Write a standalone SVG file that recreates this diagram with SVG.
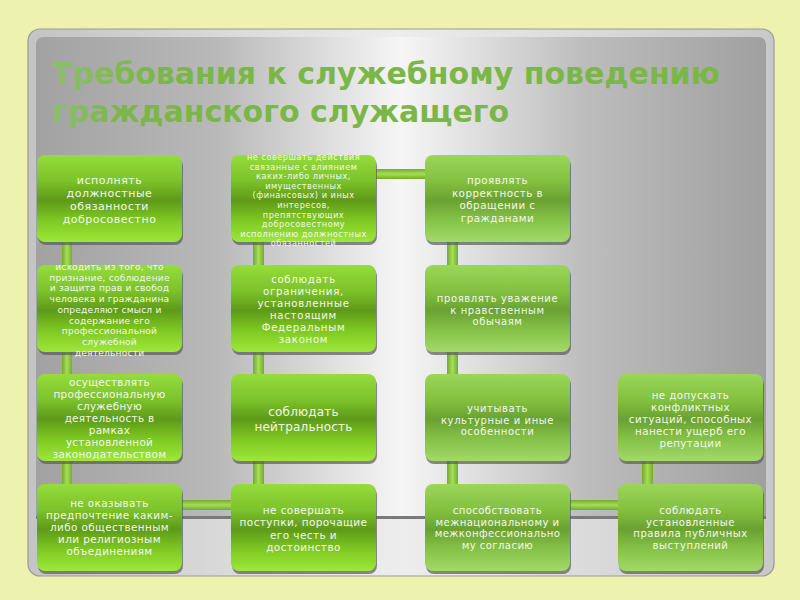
<svg xmlns="http://www.w3.org/2000/svg" width="800" height="600" viewBox="0 0 800 600">
<defs>
<linearGradient id="panel" x1="0" y1="0" x2="1" y2="0">
<stop offset="0" stop-color="#a2a2a2"/>
<stop offset="0.25" stop-color="#b9b9b9"/>
<stop offset="0.5" stop-color="#f6f6f6"/>
<stop offset="0.75" stop-color="#bdbdbd"/>
<stop offset="1" stop-color="#a0a0a0"/>
</linearGradient>
<linearGradient id="lower" x1="0" y1="0" x2="1" y2="0">
<stop offset="0" stop-color="#c4c4c4"/>
<stop offset="0.5" stop-color="#ededed"/>
<stop offset="1" stop-color="#c8c8c8"/>
</linearGradient>
<linearGradient id="g1" x1="0" y1="0" x2="0" y2="1">
<stop offset="0" stop-color="#95dc3c"/>
<stop offset="0.3" stop-color="#7cc22a"/>
<stop offset="0.52" stop-color="#5e9a18"/>
<stop offset="0.75" stop-color="#7ec822"/>
<stop offset="1" stop-color="#9ee83a"/>
</linearGradient>
<linearGradient id="g2" x1="0" y1="0" x2="0" y2="1">
<stop offset="0" stop-color="#9ad658"/>
<stop offset="0.3" stop-color="#84c040"/>
<stop offset="0.52" stop-color="#6aa132"/>
<stop offset="0.75" stop-color="#86c248"/>
<stop offset="1" stop-color="#a2da6a"/>
</linearGradient>
<linearGradient id="vbar" x1="0" y1="0" x2="1" y2="0">
<stop offset="0" stop-color="#6fae2a"/>
<stop offset="0.5" stop-color="#a8dc5a"/>
<stop offset="1" stop-color="#6fae2a"/>
</linearGradient>
<linearGradient id="hbar" x1="0" y1="0" x2="0" y2="1">
<stop offset="0" stop-color="#6fae2a"/>
<stop offset="0.5" stop-color="#a8dc5a"/>
<stop offset="1" stop-color="#6fae2a"/>
</linearGradient>
<linearGradient id="title" x1="0" y1="0" x2="1" y2="0">
<stop offset="0" stop-color="#8cc06a"/>
<stop offset="0.15" stop-color="#7ab648"/>
<stop offset="1" stop-color="#7ab648"/>
</linearGradient>
</defs>
<style>
.box1 { fill: url(#g1); }
.box2 { fill: url(#g2); }
.shadow { fill: #5a5a5a; opacity: 0.7; }
.t { font-family: "DejaVu Sans", "Liberation Sans", sans-serif; fill: #f3f8ea; text-anchor: middle; }
.ttl { font-family: "DejaVu Sans", "Liberation Sans", sans-serif; font-weight: bold; font-size: 30px; fill: url(#title); }
</style>
<rect x="0" y="0" width="800" height="600" fill="#edf2ae"/>
<rect x="28" y="29" width="746" height="547" rx="12" fill="url(#lower)" stroke="#9a9a9a" stroke-width="1.2"/>
<path d="M44 37 H758 Q766 37 766 45 V518 H36 V45 Q36 37 44 37 Z" fill="url(#panel)"/>
<rect x="36" y="516" width="730" height="3" fill="#7a7a7a"/>
<g id="title-text">
<text class="ttl" x="52" y="84">Требования к служебному поведению</text>
<text class="ttl" x="52" y="122">гражданского служащего</text>
</g>
<g id="connectors">
<rect x="62" y="200" width="10" height="320" fill="url(#vbar)"/>
<rect x="253" y="200" width="11" height="320" fill="url(#vbar)"/>
<rect x="447" y="200" width="11" height="320" fill="url(#vbar)"/>
<rect x="642" y="420" width="11" height="100" fill="url(#vbar)"/>
<rect x="370" y="169" width="60" height="10" fill="url(#hbar)"/>
<rect x="178" y="500" width="58" height="10" fill="url(#hbar)"/>
<rect x="566" y="500" width="56" height="10" fill="url(#hbar)"/>
</g>
<g id="n1">
<rect class="shadow" x="38" y="158" width="145" height="87" rx="8"/>
<rect class="box1" x="37" y="155" width="145" height="87" rx="8"/>
<g class="t" font-size="11" letter-spacing="0.5">
<text x="109.5" y="184">исполнять</text>
<text x="109.5" y="197">должностные</text>
<text x="109.5" y="210">обязанности</text>
<text x="109.5" y="223">добросовестно</text>
</g>
</g>
<g id="n2">
<rect class="shadow" x="38" y="268" width="145" height="87" rx="8"/>
<rect class="box1" x="37" y="265" width="145" height="87" rx="8"/>
<g class="t" font-size="9.1" letter-spacing="0.2">
<text x="109.5" y="270">исходить из того, что</text>
<text x="109.5" y="280.7">признание, соблюдение</text>
<text x="109.5" y="291.4">и защита прав и свобод</text>
<text x="109.5" y="302.1">человека и гражданина</text>
<text x="109.5" y="312.8">определяют смысл и</text>
<text x="109.5" y="323.5">содержание его</text>
<text x="109.5" y="334.2">профессиональной</text>
<text x="109.5" y="344.9">служебной</text>
<text x="109.5" y="355.6">деятельности</text>
</g>
</g>
<g id="n3">
<rect class="shadow" x="38" y="377" width="145" height="87" rx="8"/>
<rect class="box1" x="37" y="374" width="145" height="87" rx="8"/>
<g class="t" font-size="10.4" letter-spacing="0.3">
<text x="109.5" y="386">осуществлять</text>
<text x="109.5" y="398">профессиональную</text>
<text x="109.5" y="410">служебную</text>
<text x="109.5" y="422">деятельность в</text>
<text x="109.5" y="434">рамках</text>
<text x="109.5" y="446">установленной</text>
<text x="109.5" y="458">законодательством</text>
</g>
</g>
<g id="n4">
<rect class="shadow" x="38" y="487" width="145" height="87" rx="8"/>
<rect class="box1" x="37" y="484" width="145" height="87" rx="8"/>
<g class="t" font-size="10.4" letter-spacing="0.4">
<text x="109.5" y="507">не оказывать</text>
<text x="109.5" y="519">предпочтение каким-</text>
<text x="109.5" y="531">либо общественным</text>
<text x="109.5" y="543">или религиозным</text>
<text x="109.5" y="555">объединениям</text>
</g>
</g>
<g id="n5">
<rect class="shadow" x="232" y="487" width="145" height="87" rx="8"/>
<rect class="box1" x="231" y="484" width="145" height="87" rx="8"/>
<g class="t" font-size="10.5" letter-spacing="0.4">
<text x="303.5" y="514">не совершать</text>
<text x="303.5" y="526.3">поступки, порочащие</text>
<text x="303.5" y="538.6">его честь и</text>
<text x="303.5" y="551">достоинство</text>
</g>
</g>
<g id="n6">
<rect class="shadow" x="232" y="377" width="145" height="87" rx="8"/>
<rect class="box1" x="231" y="374" width="145" height="87" rx="8"/>
<g class="t" font-size="12" letter-spacing="0.2">
<text x="303.5" y="416">соблюдать</text>
<text x="303.5" y="431">нейтральность</text>
</g>
</g>
<g id="n7">
<rect class="shadow" x="232" y="268" width="145" height="87" rx="8"/>
<rect class="box1" x="231" y="265" width="145" height="87" rx="8"/>
<g class="t" font-size="10.2" letter-spacing="0.7">
<text x="303.5" y="283">соблюдать</text>
<text x="303.5" y="295">ограничения,</text>
<text x="303.5" y="307">установленные</text>
<text x="303.5" y="319">настоящим</text>
<text x="303.5" y="331">Федеральным</text>
<text x="303.5" y="343">законом</text>
</g>
</g>
<g id="n8">
<rect class="shadow" x="232" y="158" width="145" height="87" rx="8"/>
<rect class="box1" x="231" y="155" width="145" height="87" rx="8"/>
<g class="t" font-size="8.2" letter-spacing="0.5">
<text x="303.5" y="160">не совершать действия</text>
<text x="303.5" y="169.6">связанные с влиянием</text>
<text x="303.5" y="179.2">каких-либо личных,</text>
<text x="303.5" y="188.8">имущественных</text>
<text x="303.5" y="198.4">(финансовых) и иных</text>
<text x="303.5" y="208">интересов,</text>
<text x="303.5" y="217.6">препятствующих</text>
<text x="303.5" y="227.2">добросовестному</text>
<text x="303.5" y="236.8">исполнению должностных</text>
<text x="303.5" y="246.4">обязанностей</text>
</g>
</g>
<g id="n9">
<rect class="shadow" x="426" y="158" width="145" height="87" rx="8"/>
<rect class="box2" x="425" y="155" width="145" height="87" rx="8"/>
<g class="t" font-size="10.3" letter-spacing="0.5">
<text x="497.5" y="184">проявлять</text>
<text x="497.5" y="196.5">корректность в</text>
<text x="497.5" y="209">обращении с</text>
<text x="497.5" y="221.5">гражданами</text>
</g>
</g>
<g id="n10">
<rect class="shadow" x="426" y="268" width="145" height="87" rx="8"/>
<rect class="box2" x="425" y="265" width="145" height="87" rx="8"/>
<g class="t" font-size="10" letter-spacing="0.6">
<text x="497.5" y="302">проявлять уважение</text>
<text x="497.5" y="313.5">к нравственным</text>
<text x="497.5" y="325">обычаям</text>
</g>
</g>
<g id="n11">
<rect class="shadow" x="426" y="377" width="145" height="87" rx="8"/>
<rect class="box2" x="425" y="374" width="145" height="87" rx="8"/>
<g class="t" font-size="10" letter-spacing="0.6">
<text x="497.5" y="412">учитывать</text>
<text x="497.5" y="423.5">культурные и иные</text>
<text x="497.5" y="435">особенности</text>
</g>
</g>
<g id="n12">
<rect class="shadow" x="426" y="487" width="145" height="87" rx="8"/>
<rect class="box2" x="425" y="484" width="145" height="87" rx="8"/>
<g class="t" font-size="10.1" letter-spacing="0.4">
<text x="497.5" y="514">способствовать</text>
<text x="497.5" y="525.7">межнациональному и</text>
<text x="497.5" y="537.4">межконфессионально</text>
<text x="497.5" y="549">му согласию</text>
</g>
</g>
<g id="n13">
<rect class="shadow" x="619" y="487" width="145" height="87" rx="8"/>
<rect class="box2" x="618" y="484" width="145" height="87" rx="8"/>
<g class="t" font-size="10.1" letter-spacing="0.5">
<text x="690.5" y="514">соблюдать</text>
<text x="690.5" y="525.7">установленные</text>
<text x="690.5" y="537.4">правила публичных</text>
<text x="690.5" y="549">выступлений</text>
</g>
</g>
<g id="n14">
<rect class="shadow" x="619" y="377" width="145" height="87" rx="8"/>
<rect class="box2" x="618" y="374" width="145" height="87" rx="8"/>
<g class="t" font-size="10.3" letter-spacing="0.4">
<text x="690.5" y="399">не допускать</text>
<text x="690.5" y="411">конфликтных</text>
<text x="690.5" y="423">ситуаций, способных</text>
<text x="690.5" y="435">нанести ущерб его</text>
<text x="690.5" y="447">репутации</text>
</g>
</g>
</svg>
